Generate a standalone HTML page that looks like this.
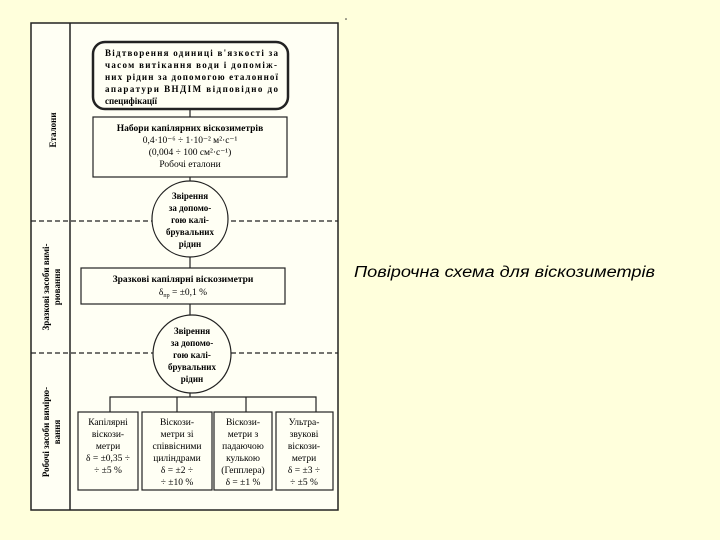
<!DOCTYPE html>
<html><head><meta charset="utf-8"><style>
html,body{margin:0;padding:0;background:#ffffdc;}
svg{display:block}
text{font-family:"Liberation Serif",serif;fill:#000;}
</style></head><body>
<svg width="720" height="540" viewBox="0 0 720 540">
<rect width="720" height="540" fill="#ffffdc"/>
<rect x="31" y="23" width="307" height="487" fill="#fffff4" stroke="#222" stroke-width="1.5"/>
<line x1="70" y1="23" x2="70" y2="510" stroke="#222" stroke-width="1.5"/>
<line x1="31" y1="221" x2="338" y2="221" stroke="#222" stroke-width="1.2" stroke-dasharray="5,3"/>
<line x1="31" y1="353" x2="338" y2="353" stroke="#222" stroke-width="1.2" stroke-dasharray="5,3"/>
<circle cx="346" cy="19" r="0.8" fill="#333"/>
<g font-size="9" text-anchor="middle" font-weight="bold">
<text transform="translate(56,130) rotate(-90)">Еталони</text>
<text transform="translate(49,287) rotate(-90)">Зразкові засоби вимі-</text>
<text transform="translate(60,287) rotate(-90)">рювання</text>
<text transform="translate(49,432) rotate(-90)">Робочі засоби вимірю-</text>
<text transform="translate(60,432) rotate(-90)">вання</text>
</g>
<g stroke="#222" stroke-width="1.2" fill="none">
<line x1="190" y1="109" x2="190" y2="117"/>
<line x1="190" y1="177" x2="190" y2="181"/>
<line x1="190" y1="257" x2="190" y2="268"/>
<line x1="190" y1="304" x2="190" y2="315"/>
<line x1="190" y1="393" x2="190" y2="397"/>
<polyline points="110,412 110,397 316,397 316,412"/>
<line x1="177" y1="397" x2="177" y2="412"/>
<line x1="246" y1="397" x2="246" y2="412"/>
</g>
<rect x="93" y="42" width="195" height="67" rx="12" fill="#fffff4" stroke="#222" stroke-width="2.5"/>
<g font-size="9" font-weight="bold">
<text x="105" y="56" textLength="173" lengthAdjust="spacing">Відтворення одиниці в'язкості за</text>
<text x="105" y="68" textLength="172" lengthAdjust="spacing">часом витікання води і допоміж-</text>
<text x="105" y="80" textLength="173" lengthAdjust="spacing">них рідин за допомогою еталонної</text>
<text x="105" y="92" textLength="173" lengthAdjust="spacing">апаратури ВНДІМ відповідно до</text>
<text x="105" y="104">специфікації</text>
</g>
<rect x="93" y="117" width="194" height="60" fill="#fffff4" stroke="#222" stroke-width="1.2"/>
<g font-size="9.5" text-anchor="middle">
<text x="190" y="131" font-weight="bold">Набори капілярних віскозиметрів</text>
<text x="190" y="143">0,4·10⁻⁶ ÷ 1·10⁻² м²·с⁻¹</text>
<text x="190" y="155">(0,004 ÷ 100 см²·с⁻¹)</text>
<text x="190" y="167">Робочі еталони</text>
</g>
<circle cx="190" cy="219" r="38" fill="#fffff4" stroke="#222" stroke-width="1.2"/>
<g font-size="9" text-anchor="middle" font-weight="bold">
<text x="190" y="199">Звірення</text>
<text x="190" y="211">за допомо-</text>
<text x="190" y="223">гою калі-</text>
<text x="190" y="235">брувальних</text>
<text x="190" y="247">рідин</text>
</g>
<rect x="81" y="268" width="204" height="36" fill="#fffff4" stroke="#222" stroke-width="1.2"/>
<g font-size="9.5" text-anchor="middle">
<text x="183" y="282" font-weight="bold">Зразкові капілярні віскозиметри</text>
<text x="183" y="295">δ<tspan font-size="6" dy="2">пр</tspan><tspan dy="-2"> = ±0,1 %</tspan></text>
</g>
<circle cx="192" cy="354" r="39" fill="#fffff4" stroke="#222" stroke-width="1.2"/>
<g font-size="9" text-anchor="middle" font-weight="bold">
<text x="192" y="334">Звірення</text>
<text x="192" y="346">за допомо-</text>
<text x="192" y="358">гою калі-</text>
<text x="192" y="370">брувальних</text>
<text x="192" y="382">рідин</text>
</g>
<g fill="#fffff4" stroke="#222" stroke-width="1.2">
<rect x="78" y="412" width="60" height="78"/>
<rect x="142" y="412" width="70" height="78"/>
<rect x="214" y="412" width="58" height="78"/>
<rect x="276" y="412" width="57" height="78"/>
</g>
<g font-size="9.5" text-anchor="middle">
<text x="108" y="425">Капілярні</text><text x="108" y="437">віскози-</text><text x="108" y="449">метри</text><text x="108" y="461">δ = ±0,35 ÷</text><text x="108" y="473">÷ ±5 %</text>
<text x="177" y="425">Віскози-</text><text x="177" y="437">метри зі</text><text x="177" y="449">співвісними</text><text x="177" y="461">циліндрами</text><text x="177" y="473">δ = ±2 ÷</text><text x="177" y="485">÷ ±10 %</text>
<text x="243" y="425">Віскози-</text><text x="243" y="437">метри з</text><text x="243" y="449">падаючою</text><text x="243" y="461">кулькою</text><text x="243" y="473">(Гепплера)</text><text x="243" y="485">δ = ±1 %</text>
<text x="304" y="425">Ультра-</text><text x="304" y="437">звукові</text><text x="304" y="449">віскози-</text><text x="304" y="461">метри</text><text x="304" y="473">δ = ±3 ÷</text><text x="304" y="485">÷ ±5 %</text>
</g>
<text x="354" y="277" font-size="15.5" font-style="italic" style="font-family:'Liberation Sans',sans-serif" textLength="301" lengthAdjust="spacingAndGlyphs">Повірочна схема для віскозиметрів</text>
</svg>
</body></html>
